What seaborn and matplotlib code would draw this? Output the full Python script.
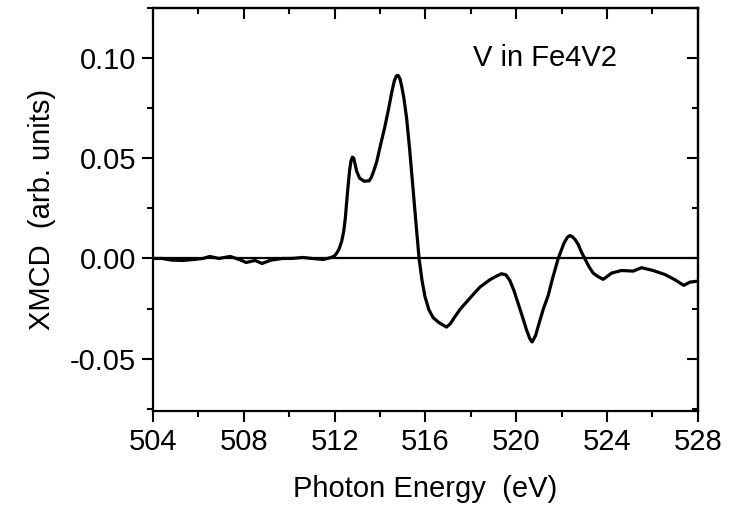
import matplotlib
matplotlib.use("Agg")
import matplotlib.pyplot as plt
from matplotlib.ticker import MultipleLocator, FormatStrFormatter
import seaborn as sns
import pandas as pd

energy = [504.0, 504.4, 504.8, 505.3, 505.8, 506.2, 506.5, 506.9, 507.4, 507.8,
          508.1, 508.5, 508.8, 509.2, 509.7, 510.1, 510.6, 511.0, 511.5, 511.85,
          512.0, 512.1, 512.2, 512.31, 512.4, 512.47, 512.53, 512.6, 512.66, 512.72,
          512.78, 512.84, 512.9, 512.97, 513.1, 513.3, 513.52, 513.62, 513.72, 513.85,
          514.0, 514.2, 514.36, 514.52, 514.63, 514.72, 514.8, 514.88, 514.96, 515.05,
          515.17, 515.3, 515.46, 515.6, 515.72, 515.85, 515.98, 516.15, 516.34, 516.6,
          516.93, 517.1, 517.3, 517.55, 517.81, 518.1, 518.4, 518.84, 519.1, 519.35,
          519.55, 519.72, 519.9, 520.09, 520.3, 520.46, 520.6, 520.7, 520.85, 521.04,
          521.2, 521.41, 521.6, 521.85, 522.1, 522.25, 522.36, 522.48, 522.6, 522.73,
          522.88, 523.02, 523.2, 523.39, 523.6, 523.83, 524.0, 524.2, 524.64, 525.15,
          525.52, 526.03, 526.55, 526.99, 527.38, 527.65, 528.0]
xmcd = [0.0, 0.0, -0.0008, -0.001, -0.0005, 0.0, 0.001, 0.0, 0.001, -0.0005,
        -0.002, -0.001, -0.0025, -0.0008, 0.0, 0.0, 0.0005, 0.0, -0.0005, 0.0005,
        0.0013, 0.0028, 0.0048, 0.0085, 0.0135, 0.020, 0.028, 0.037, 0.044, 0.0485,
        0.0505, 0.050, 0.047, 0.0435, 0.0400, 0.0385, 0.0387, 0.0405, 0.0435, 0.048,
        0.0555, 0.065, 0.0736, 0.083, 0.0885, 0.0910, 0.0912, 0.0895, 0.0855, 0.080,
        0.070, 0.055, 0.034, 0.0155, 0.0, -0.011, -0.019, -0.0255, -0.0295, -0.032,
        -0.0342, -0.0325, -0.029, -0.025, -0.0217, -0.018, -0.0143, -0.0106, -0.009, -0.0076,
        -0.0082, -0.011, -0.016, -0.0226, -0.030, -0.0358, -0.0400, -0.0416, -0.0385, -0.031,
        -0.025, -0.0184, -0.010, 0.0, 0.0075, 0.0105, 0.0114, 0.0108, 0.0093, 0.0070,
        0.003, 0.0, -0.004, -0.0073, -0.009, -0.0104, -0.009, -0.0073, -0.006, -0.0063,
        -0.0046, -0.006, -0.008, -0.0106, -0.0134, -0.0118, -0.0113]

x_ticks = [504, 508, 512, 516, 520, 524, 528]
y_ticks = [-0.05, 0.00, 0.05, 0.10]
title_text = "V in Fe4V2"
x_label = "Photon Energy  (eV)"
y_label = "XMCD  (arb. units)"

sns.set_theme(style="ticks")
plt.rcParams['font.family'] = ['Liberation Sans', 'DejaVu Sans']
plt.rcParams['text.color'] = 'black'
plt.rcParams['axes.labelcolor'] = 'black'

df = pd.DataFrame({"energy": energy, "xmcd": xmcd})

fig = plt.figure(figsize=(7.4, 5.08), dpi=100)
ax = fig.add_axes([0.2068, 0.191, 0.7362, 0.794])

sns.lineplot(data=df, x="energy", y="xmcd", ax=ax, color="black", linewidth=2.3,
             estimator=None, sort=False)
ax.axhline(0.0, color="black", linewidth=1.6, zorder=1)

ax.set_xlim(504, 528)
ax.set_ylim(-0.076, 0.125)
ax.set_xticks(x_ticks)
ax.set_yticks(y_ticks)
ax.xaxis.set_minor_locator(MultipleLocator(2))
ax.yaxis.set_minor_locator(MultipleLocator(0.025))
ax.yaxis.set_major_formatter(FormatStrFormatter("%.2f"))

fs = 21
ax.tick_params(axis="both", which="major", direction="out", length=8, width=1.5,
               labelsize=fs, pad=4, colors="black")
ax.tick_params(axis="both", which="minor", direction="out", length=4.5, width=1.5,
               colors="black")

for s in ax.spines.values():
    s.set_linewidth(1.6)
    s.set_color("black")
    s.set_visible(True)

top = ax.secondary_xaxis("top")
top.set_xticks(x_ticks)
top.xaxis.set_minor_locator(MultipleLocator(2))
top.tick_params(which="major", direction="in", length=8, width=1.5, labeltop=False, colors="black")
top.tick_params(which="minor", direction="in", length=4.5, width=1.5, colors="black")
top.spines["top"].set_linewidth(1.6)
top.spines["top"].set_color("black")

right = ax.secondary_yaxis("right")
right.set_yticks(y_ticks)
right.yaxis.set_minor_locator(MultipleLocator(0.025))
right.tick_params(which="major", direction="in", length=8, width=1.5, labelright=False, colors="black")
right.tick_params(which="minor", direction="in", length=4.5, width=1.5, colors="black")
right.spines["right"].set_linewidth(1.6)
right.spines["right"].set_color("black")

ax.set_xlabel(x_label, fontsize=fs, labelpad=14, color="black")
ax.set_ylabel(y_label, fontsize=fs, labelpad=10, color="black")
ax.text(0.72, 0.875, title_text, transform=ax.transAxes, fontsize=fs,
        ha="center", va="center", color="black")

fig.savefig("out.png", dpi=100)
